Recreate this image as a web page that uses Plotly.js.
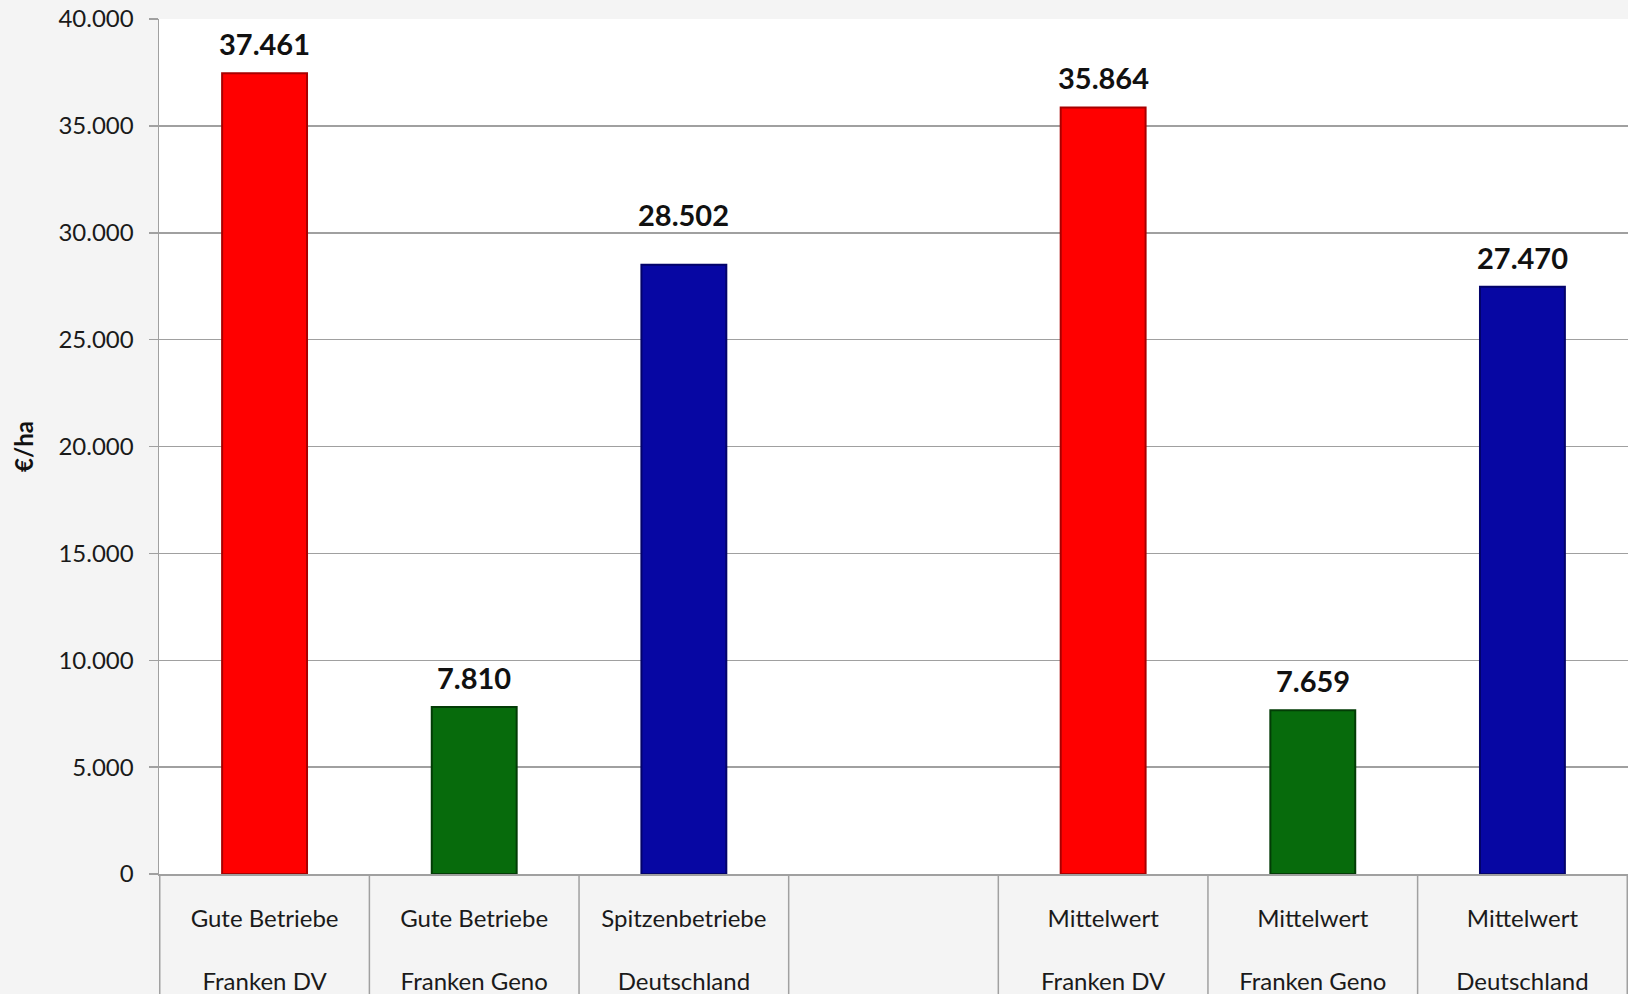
<!DOCTYPE html>
<html>
<head>
<meta charset="utf-8">
<script src="https://cdn.plot.ly/plotly-3.0.1.min.js"></script>
<style>
html,body{margin:0;padding:0;background:#f4f4f4;}
#chart{width:1628px;height:994px;}
</style>
</head>
<body>
<div id="chart"></div>
<script>
// Data
const categories = [
  "Gute Betriebe<br><br>Franken DV",
  "Gute Betriebe<br><br>Franken Geno",
  "Spitzenbetriebe<br><br>Deutschland",
  " ",
  "Mittelwert<br><br>Franken DV",
  "Mittelwert<br><br>Franken Geno",
  "Mittelwert<br><br>Deutschland"
];
const values = [37461, 7810, 28502, null, 35864, 7659, 27470];
const barColors = ["#ff0000", "#076b0c", "#0707a3", "#ffffff", "#ff0000", "#076b0c", "#0707a3"];
const edgeColors = ["#a80000", "#033c06", "#03036a", "#ffffff", "#a80000", "#033c06", "#03036a"];
const yTitle = "€/ha";

const FONT = "Lato, 'Noto Sans', sans-serif";

const trace = {
  type: "bar",
  x: categories,
  y: values,
  marker: {color: barColors, line: {color: edgeColors, width: 2}},
  hoverinfo: "skip",
  showlegend: false
};

const annotations = [];
categories.forEach((c, i) => {
  if (values[i] === null) return;
  annotations.push({
    x: c, y: values[i], xref: "x", yref: "y",
    text: values[i].toLocaleString("de-DE"),
    showarrow: false, yanchor: "bottom",
    // the reference lifts the "Spitzenbetriebe" label a little higher than the others
    yshift: i === 2 ? 31 : 10,
    font: {family: FONT, size: 29, color: "#111111", weight: "bold"}
  });
});

const shapes = [];
for (let i = 0; i <= categories.length; i++) {
  shapes.push({
    type: "line", xref: "x", yref: "paper",
    x0: i - 0.5, x1: i - 0.5, y0: 0, y1: -0.2,
    line: {color: "#a0a0a0", width: 1.5}, layer: "below"
  });
}

const layout = {
  width: 1628, height: 994,
  paper_bgcolor: "#f4f4f4",
  plot_bgcolor: "#ffffff",
  margin: {l: 159, r: 0, t: 19, b: 120},
  separators: ",.",
  bargap: 0.595,
  font: {family: FONT, color: "#1a1a1a"},
  xaxis: {
    type: "category",
    showgrid: false,
    showline: true, linecolor: "#a0a0a0", linewidth: 1.5,
    ticks: "", ticklabelstandoff: 23,
    tickfont: {family: FONT, size: 24, color: "#1a1a1a"},
    fixedrange: true
  },
  yaxis: {
    range: [0, 40000], dtick: 5000, tickformat: ",d",
    showgrid: true, gridcolor: "#a0a0a0", gridwidth: 1.5,
    zeroline: false,
    showline: true, linecolor: "#a0a0a0", linewidth: 1.5,
    ticks: "outside", ticklen: 9, tickcolor: "#a0a0a0", tickwidth: 1.5,
    ticklabelstandoff: 10,
    tickfont: {family: FONT, size: 24, color: "#1a1a1a"},
    title: {text: yTitle, font: {family: FONT, size: 24, color: "#111111", weight: "bold"}, standoff: 18},
    fixedrange: true
  },
  annotations: annotations,
  shapes: shapes
};

Plotly.newPlot("chart", [trace], layout, {displayModeBar: false, staticPlot: true});
</script>
</body>
</html>
